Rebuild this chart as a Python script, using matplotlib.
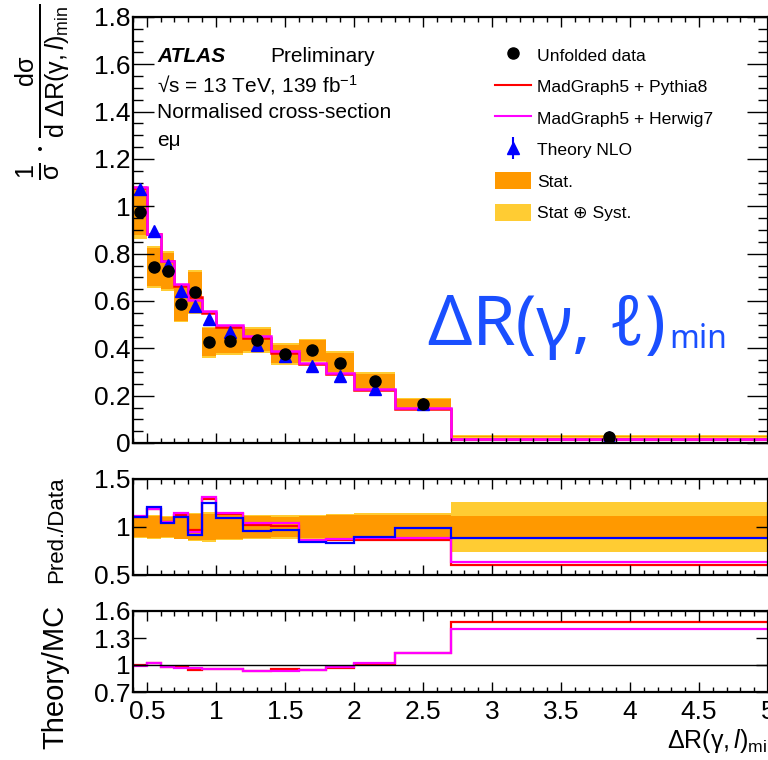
import matplotlib
matplotlib.use('Agg')
import matplotlib.pyplot as plt
import numpy as np
from matplotlib.lines import Line2D
from matplotlib.patches import Patch
from matplotlib.ticker import MultipleLocator, FixedLocator, FuncFormatter

plt.rcParams['font.family'] = ['Liberation Sans', 'DejaVu Sans']
plt.rcParams['mathtext.fontset'] = 'custom'
plt.rcParams['mathtext.rm'] = 'Liberation Sans'
plt.rcParams['mathtext.it'] = 'Liberation Sans:italic'
plt.rcParams['mathtext.bf'] = 'Liberation Sans:bold'

# ---------------- data ----------------
edges = [0.4, 0.5, 0.6, 0.7, 0.8, 0.9, 1.0, 1.2, 1.4, 1.6, 1.8, 2.0, 2.3, 2.7, 5.0]
data = [0.975, 0.744, 0.728, 0.587, 0.637, 0.425, 0.433, 0.435, 0.376, 0.391, 0.340, 0.260, 0.165, 0.027]
stat_rel = [0.10, 0.11, 0.105, 0.12, 0.135, 0.14, 0.12, 0.11, 0.105, 0.112, 0.12, 0.125, 0.125, 0.11]
tot_rel = [0.115, 0.12, 0.115, 0.13, 0.145, 0.153, 0.14, 0.125, 0.125, 0.125, 0.14, 0.15, 0.15, 0.26]
pythia = [1.079, 0.881, 0.769, 0.663, 0.617, 0.548, 0.491, 0.444, 0.381, 0.334, 0.292, 0.225, 0.143, 0.0165]
herwig = [1.082, 0.881, 0.769, 0.671, 0.606, 0.559, 0.498, 0.452, 0.390, 0.338, 0.296, 0.229, 0.146, 0.0175]
nlo = [1.075, 0.895, 0.754, 0.641, 0.577, 0.524, 0.471, 0.415, 0.366, 0.326, 0.281, 0.227, 0.163, 0.024]
ratio_pythia = [1.107, 1.184, 1.056, 1.13, 0.969, 1.29, 1.135, 1.02, 1.014, 0.855, 0.86, 0.865, 0.865, 0.604]
ratio_herwig = [1.11, 1.184, 1.056, 1.143, 0.951, 1.316, 1.149, 1.038, 1.038, 0.865, 0.872, 0.882, 0.882, 0.639]
ratio_nlo = [1.107, 1.21, 1.038, 1.10, 0.917, 1.253, 1.09, 0.962, 0.969, 0.84, 0.83, 0.899, 0.986, 0.89]
theory_over_pythia = [1.00, 1.019, 0.981, 0.974, 0.944, 0.952, 0.955, 0.933, 0.952, 0.944, 0.97, 1.01, 1.137, 1.474]
theory_over_herwig = [0.989, 1.019, 0.981, 0.963, 0.963, 0.952, 0.955, 0.933, 0.93, 0.944, 0.98, 1.026, 1.137, 1.40]

C_STAT = '#ff9900'
C_SYST = '#ffcc33'
C_PY = '#ff0000'
C_HW = '#ff00ff'
C_NLO = '#0000ff'
C_BIG = '#1a4fff'

e = np.array(edges)
mid = 0.5 * (e[:-1] + e[1:])
d = np.array(data)
sr = np.array(stat_rel)
tr = np.array(tot_rel)

W, H = 768, 760
fig = plt.figure(figsize=(W / 100, H / 100), dpi=100)


def axes_px(l, t, r, b):
    return fig.add_axes([l / W, 1 - b / H, (r - l) / W, (b - t) / H])


ax1 = axes_px(133, 17, 768, 443)
ax2 = axes_px(133, 479, 768, 575)
ax3 = axes_px(133, 611, 768, 692)

fmt = FuncFormatter(lambda v, p: ('%g' % round(v, 3)))

for ax in (ax1, ax2, ax3):
    ax.set_xlim(0.4, 5.0)
    ax.xaxis.set_major_locator(MultipleLocator(0.5))
    ax.xaxis.set_minor_locator(MultipleLocator(0.1))
    ax.tick_params(axis='both', which='both', direction='in', top=True, right=True,
                   width=1.0, colors='black')
    ax.tick_params(axis='x', which='major', length=7)
    ax.tick_params(axis='x', which='minor', length=3.5)
    ax.tick_params(axis='y', which='major', length=9, pad=2, labelsize=19)
    for s in ax.spines.values():
        s.set_linewidth(1.6)
    ax.yaxis.set_major_formatter(fmt)
    ax.xaxis.set_major_formatter(fmt)

# ---------------- main panel ----------------
ax1.set_ylim(0, 1.8)
ax1.yaxis.set_major_locator(MultipleLocator(0.2))
ax1.yaxis.set_minor_locator(MultipleLocator(0.05))
ax1.tick_params(axis='y', which='major', length=15)
ax1.tick_params(axis='y', which='minor', length=7.5)
ax1.tick_params(axis='x', labelbottom=False)

ax1.stairs(d * (1 + tr), e, baseline=d * (1 - tr), fill=True, color=C_SYST, lw=0)
ax1.stairs(d * (1 + sr), e, baseline=d * (1 - sr), fill=True, color=C_STAT, lw=0)
ax1.stairs(pythia, e, baseline=None, color=C_PY, lw=1.8)
ax1.stairs(herwig, e, baseline=None, color=C_HW, lw=1.8)
ax1.plot(mid, nlo, '^', color=C_NLO, ms=8, ls='none')
ax1.plot(mid, d, 'o', color='black', ms=8, ls='none')

# ---------------- ratio Pred/Data ----------------
ax2.set_ylim(0.5, 1.5)
ax2.yaxis.set_major_locator(FixedLocator([0.5, 1.0, 1.5]))
ax2.tick_params(axis='x', labelbottom=False)
ax2.stairs(1 + tr, e, baseline=1 - tr, fill=True, color=C_SYST, lw=0)
ax2.stairs(1 + sr, e, baseline=1 - sr, fill=True, color=C_STAT, lw=0)
ax2.stairs(ratio_pythia, e, baseline=None, color=C_PY, lw=1.6)
ax2.stairs(ratio_herwig, e, baseline=None, color=C_HW, lw=1.6)
ax2.stairs(ratio_nlo, e, baseline=None, color=C_NLO, lw=1.6)

# ---------------- ratio Theory/MC ----------------
ax3.set_ylim(0.7, 1.6)
ax3.yaxis.set_major_locator(FixedLocator([0.7, 1.0, 1.3, 1.6]))
ax3.axhline(1.0, color='black', lw=1.0)
ax3.stairs(theory_over_pythia, e, baseline=None, color=C_PY, lw=1.6)
ax3.stairs(theory_over_herwig, e, baseline=None, color=C_HW, lw=1.6)
ax3.tick_params(axis='x', which='major', labelsize=19, pad=6)

# ---------------- labels ----------------
fig.text(42 / W, 1 - 4 / H,
         r'$\frac{1}{\mathrm{\sigma}}\cdot\frac{\mathrm{d\sigma}}{\mathrm{d}\ \Delta\mathrm{R}(\mathrm{\gamma},l)_{\mathrm{min}}}$',
         rotation=90, ha='center', va='top', fontsize=26)
fig.text(57 / W, 1 - 530 / H, 'Pred./Data', rotation=90, ha='center', va='center', fontsize=16)
fig.text(55 / W, 1 - 677 / H, 'Theory/MC', rotation=90, ha='center', va='center', fontsize=21)
fig.text(667 / W, 1 - 748 / H, r'$\Delta\mathrm{R}(\mathrm{\gamma},l)_{\mathrm{min}}$',
         ha='left', va='baseline', fontsize=18)

# ---------------- annotations ----------------
fig.text(157 / W, 1 - 57 / H, 'ATLAS', weight='bold', style='italic', fontsize=15, va='center')
fig.text(270 / W, 1 - 57 / H, 'Preliminary', fontsize=15, va='center')
fig.text(157 / W, 1 - 85 / H, '√s = 13 TeV, 139 fb$^{\\mathrm{-1}}$', fontsize=15, va='center')
fig.text(157 / W, 1 - 112 / H, 'Normalised cross-section', fontsize=15, va='center')
fig.text(157 / W, 1 - 140 / H, 'eμ', fontsize=15, va='center')

big = fig.text(428 / W, 1 - 345 / H, 'ΔR(γ, ℓ)', fontsize=50, color=C_BIG,
               family=['Noto Sans', 'DejaVu Sans'], va='baseline')
fig.canvas.draw()
bb = big.get_window_extent(renderer=fig.canvas.get_renderer())
fig.text((bb.x1 + 3) / W, 1 - 348 / H, 'min', fontsize=23, color=C_BIG,
         family=['Noto Sans', 'DejaVu Sans'], va='baseline')

# ---------------- legend ----------------
handles = [
    Line2D([], [], marker='o', color='black', ls='none', ms=8),
    Line2D([], [], color=C_PY, lw=1.5),
    Line2D([], [], color=C_HW, lw=1.5),
    (Line2D([], [], marker='|', color=C_NLO, ls='none', ms=16, mew=1.5),
     Line2D([], [], marker='^', color=C_NLO, ls='none', ms=8)),
    Patch(facecolor=C_STAT, edgecolor='none'),
    Patch(facecolor=C_SYST, edgecolor='none'),
]
labels = ['Unfolded data', 'MadGraph5 + Pythia8', 'MadGraph5 + Herwig7', 'Theory NLO',
          'Stat.', 'Stat ⊕ Syst.']
fig.legend(handles, labels, loc='upper left', bbox_to_anchor=(495 / W, 1 - 46 / H),
           frameon=False, fontsize=12.6, borderpad=0, borderaxespad=0,
           handlelength=2.06, handletextpad=0.34, handleheight=1.14, labelspacing=0.80)

fig.savefig('out.png', dpi=100)
